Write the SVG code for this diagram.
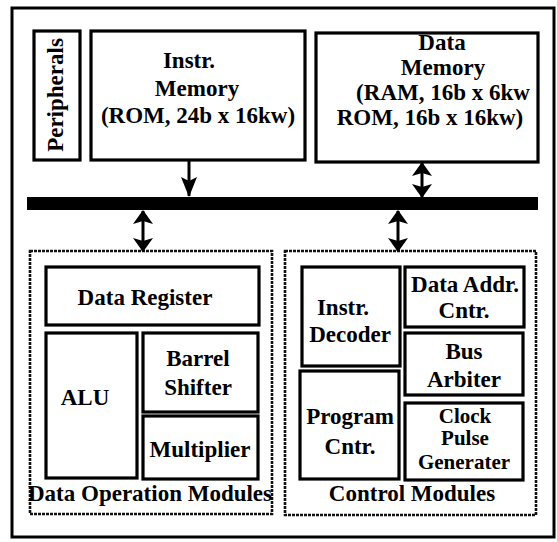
<svg xmlns="http://www.w3.org/2000/svg" width="557" height="542" viewBox="0 0 557 542">
  <defs>
    <style>
      .box { fill: #fff; stroke: #000; stroke-width: 3.2; }
      .group { fill: none; stroke: #111; stroke-width: 2.6; stroke-dasharray: 3 1; }
      .frame { fill: #fff; stroke: #000; stroke-width: 3; }
      .link { stroke: #000; stroke-width: 3; fill: none; }
    </style>
    <marker id="head" markerUnits="userSpaceOnUse" viewBox="0 0 20 16" refX="19" refY="8" markerWidth="20" markerHeight="22" orient="auto-start-reverse">
      <path d="M0,0 L20,8 L0,16 L4,8 Z" fill="#000"/>
    </marker>
    <marker id="dhead" markerUnits="userSpaceOnUse" viewBox="0 0 14 20" refX="13" refY="10" markerWidth="14" markerHeight="20" orient="auto-start-reverse">
      <path d="M0,0 L14,10 L0,20 L3,10 Z" fill="#000"/>
    </marker>
  </defs>

  <rect width="557" height="542" fill="#fff"/>
  <!-- chip boundary -->
  <rect class="frame" x="12" y="8" width="542" height="529"/>

  <g font-family="'Liberation Serif', Tinos, 'Times New Roman', 'DejaVu Serif', serif" font-weight="bold" font-size="23" text-anchor="middle" fill="#000">

  <g id="peripherals">
    <rect class="box" x="34" y="31" width="46" height="129"/>
    <text transform="translate(63,95) rotate(-90)">Peripherals</text>
  </g>

  <g id="instr-memory">
    <rect class="box" x="91" y="31" width="214" height="129"/>
    <text x="189" y="68">Instr.</text>
    <text x="197" y="96">Memory</text>
    <text x="198" y="123">(ROM, 24b x 16kw)</text>
  </g>

  <g id="data-memory">
    <rect class="box" x="316" y="33" width="222" height="129"/>
    <text x="442" y="50">Data</text>
    <text x="443" y="75">Memory</text>
    <text x="443" y="100">(RAM, 16b x 6kw</text>
    <text x="430" y="125">ROM, 16b x 16kw)</text>
  </g>

  <g id="bus">
    <rect x="27" y="197" width="511" height="13" fill="#000"/>
  </g>

  <g id="data-operation-modules">
    <rect class="group" x="30" y="251" width="242" height="263"/>
    <text x="150" y="501">Data Operation Modules</text>
    <g id="data-register">
      <rect class="box" x="46" y="267" width="213" height="58"/>
      <text x="145" y="305">Data Register</text>
    </g>
    <g id="alu">
      <rect class="box" x="46" y="333" width="91" height="145"/>
      <text x="85" y="405">ALU</text>
    </g>
    <g id="barrel-shifter">
      <rect class="box" x="143" y="333" width="115" height="79"/>
      <text x="198" y="366">Barrel</text>
      <text x="198" y="395">Shifter</text>
    </g>
    <g id="multiplier">
      <rect class="box" x="143" y="416" width="115" height="63"/>
      <text x="200" y="457">Multiplier</text>
    </g>
  </g>

  <g id="control-modules">
    <rect class="group" x="285" y="251" width="251" height="264"/>
    <text x="412" y="501">Control Modules</text>
    <g id="instr-decoder">
      <rect class="box" x="302" y="267" width="98" height="99"/>
      <text x="343" y="315">Instr.</text>
      <text x="350" y="342">Decoder</text>
    </g>
    <g id="program-cntr">
      <rect class="box" x="300" y="371" width="99" height="108"/>
      <text x="350" y="424">Program</text>
      <text x="350" y="454">Cntr.</text>
    </g>
    <g id="data-addr-cntr">
      <rect class="box" x="405" y="267" width="119" height="60"/>
      <text x="465" y="292">Data Addr.</text>
      <text x="464" y="318">Cntr.</text>
    </g>
    <g id="bus-arbiter">
      <rect class="box" x="405" y="333" width="118" height="62"/>
      <text x="464" y="359">Bus</text>
      <text x="464" y="387">Arbiter</text>
    </g>
    <g id="clock-pulse-generater" font-size="21">
      <rect class="box" x="405" y="403" width="118" height="77"/>
      <text x="465" y="423">Clock</text>
      <text x="465" y="445">Pulse</text>
      <text x="464" y="469">Generater</text>
    </g>
  </g>
  </g>

  <g id="connectors">
    <line class="link" x1="189" y1="160" x2="189" y2="196" marker-end="url(#head)"/>
    <line class="link" x1="422" y1="163" x2="422" y2="197" marker-start="url(#dhead)" marker-end="url(#dhead)"/>
    <line class="link" x1="143" y1="211" x2="143" y2="251" marker-start="url(#dhead)" marker-end="url(#dhead)"/>
    <line class="link" x1="398" y1="211" x2="398" y2="251" marker-start="url(#dhead)" marker-end="url(#dhead)"/>
  </g>
</svg>
